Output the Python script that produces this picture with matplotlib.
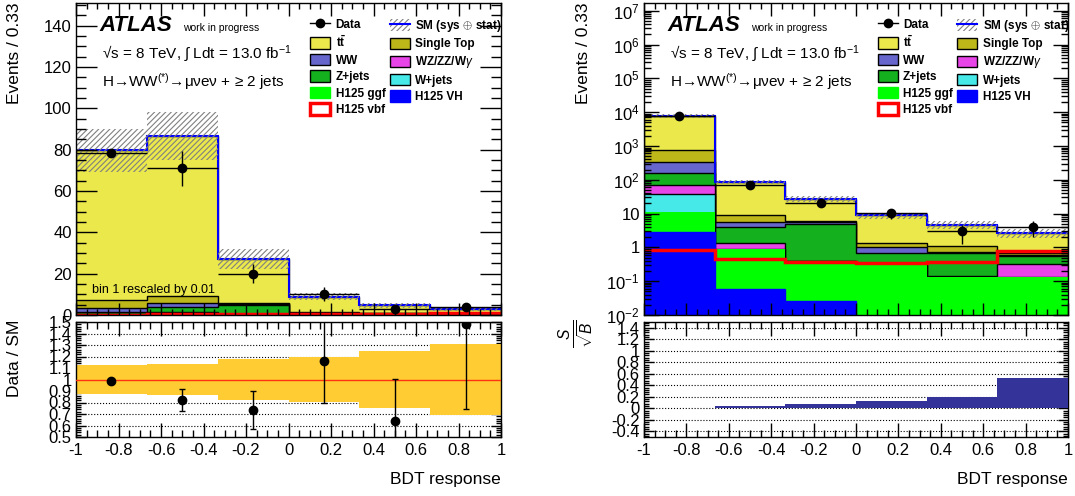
import numpy as np
import matplotlib
matplotlib.use('Agg')
import matplotlib.pyplot as plt
from matplotlib.patches import Patch
from matplotlib.lines import Line2D
from matplotlib.ticker import MultipleLocator, LogLocator, FuncFormatter, NullFormatter

plt.rcParams['font.family'] = ['Liberation Sans', 'DejaVu Sans']
plt.rcParams['mathtext.fontset'] = 'custom'
plt.rcParams['mathtext.rm'] = 'Liberation Sans'
plt.rcParams['mathtext.it'] = 'Liberation Sans:italic'
plt.rcParams['mathtext.bf'] = 'Liberation Sans:bold'
plt.rcParams['hatch.linewidth'] = 0.8

# BDT response binning (6 bins of width 1/3)
edges = np.linspace(-1, 1, 7)

# events per bin (bottom of the stack first)
h_vh = [2.9, 0.057, 0.026, 0.004, 0.003, 0.003]
h_ggf = [8.1, 0.87, 0.38, 0.33, 0.13, 0.13]
w_jets = [26, 0.0, 0.0, 0.0, 0.0, 0.0]
wz_zz = [31, 0.41, 0.0, 0.0, 0.012, 0.19]
z_jets = [91, 2.76, 4.59, 0.35, 0.53, 0.23]
ww = [168, 1.6, 0.5, 0.32, 0.07, 0.05]
single_top = [413, 3.6, 0.5, 0.34, 0.32, 0.08]
ttbar = [7230, 77.3, 21.2, 7.46, 3.63, 2.02]
h_vbf = [0.85, 0.45, 0.36, 0.34, 0.36, 0.8]
data = [7850, 71, 20, 10.2, 3.0, 4.0]
rel_unc = [0.13, 0.135, 0.18, 0.195, 0.25, 0.305]
s_over_sqrtb = [0.005, 0.04, 0.075, 0.12, 0.19, 0.52]
lin_scale = [0.01, 1, 1, 1, 1, 1]   # bin 1 rescaled by 0.01 in linear plot

samples = [
    ('H125 VH', h_vh, '#0000FF', False),
    ('H125 ggf', h_ggf, '#00FF00', False),
    ('W+jets', w_jets, '#47E8E8', True),
    ('WZ/ZZ/W$\\gamma$', wz_zz, '#E845E8', True),
    ('Z+jets', z_jets, '#14B01E', True),
    ('WW', ww, '#6666CC', True),
    ('Single Top', single_top, '#BDB71A', True),
    ('tt', ttbar, '#EBE84B', True),
]
colors = {s[0]: s[2] for s in samples}

centers = 0.5 * (edges[1:] + edges[:-1])
halfw = 0.5 * (edges[1] - edges[0])
total = np.sum([np.asarray(s[1]) for s in samples], axis=0)
data = np.asarray(data, dtype=float)
unc = np.asarray(rel_unc)


def draw_main(ax, scale, floor):
    scale = np.asarray(scale, dtype=float)
    cum = np.zeros(len(total))
    tops = []
    for name, vals, color, outline in samples:
        cum = cum + np.asarray(vals) * scale
        tops.append((cum.copy(), color, outline))
    for top, color, outline in reversed(tops):
        ax.stairs(np.maximum(top, floor), edges, baseline=floor, fill=True,
                  facecolor=color, edgecolor='k' if outline else 'none', linewidth=1)
    ax.stairs(np.asarray(h_vh) * scale, edges, baseline=None, color='#0000FF', lw=1)
    tot = total * scale
    ax.stairs(tot, edges, baseline=None, color='#0000FF', lw=1.5)
    ax.stairs(tot * (1 + unc), edges, baseline=tot * (1 - unc), fill=True,
              facecolor='none', edgecolor='#808080', hatch='//////', linewidth=0)
    ax.stairs(np.asarray(h_vbf) * scale, edges, baseline=None, color='#FF0000', lw=2.5)
    ax.errorbar(centers, data * scale, xerr=halfw, yerr=np.sqrt(data) * scale,
                fmt='o', color='k', ms=6, lw=1, capsize=0, zorder=6)


def fmt_g(v, pos):
    return '%g' % round(v, 3)


def style(ax, xlen, ylen):
    ax.tick_params(which='both', direction='in', top=True, right=True,
                   labelsize=12, width=1)
    ax.tick_params(axis='x', which='major', length=xlen, pad=4)
    ax.tick_params(axis='x', which='minor', length=xlen / 2)
    ax.tick_params(axis='y', which='major', length=ylen, pad=3)
    ax.tick_params(axis='y', which='minor', length=ylen / 2)
    ax.set_xlim(-1, 1)
    ax.xaxis.set_major_locator(MultipleLocator(0.2))
    ax.xaxis.set_minor_locator(MultipleLocator(0.05))
    ax.xaxis.set_major_formatter(FuncFormatter(fmt_g))
    for sp in ax.spines.values():
        sp.set_linewidth(1)


def legend(ax):
    h_data = Line2D([], [], color='k', marker='o', ms=6, lw=1)
    h_sm = (Patch(facecolor='none', edgecolor='#808080', hatch='//////', lw=0),
            Line2D([], [], color='#0000FF', lw=1.5))

    def box(c, outline=True):
        return Patch(facecolor=c, edgecolor='k' if outline else c, lw=1)
    col1 = [(h_data, 'Data'), (box(colors['tt']), r'$\mathbf{t\bar{t}}$'),
            (box(colors['WW']), 'WW'), (box(colors['Z+jets']), 'Z+jets'),
            (box(colors['H125 ggf'], False), 'H125 ggf'),
            (Patch(facecolor='white', edgecolor='#FF0000', lw=2.5), 'H125 vbf')]
    col2 = [(h_sm, 'SM (sys $\\oplus$ stat)'), (box(colors['Single Top']), 'Single Top'),
            (box(colors['WZ/ZZ/W$\\gamma$']), 'WZ/ZZ/W$\\gamma$'),
            (box(colors['W+jets']), 'W+jets'),
            (box(colors['H125 VH'], False), 'H125 VH')]
    kw = dict(loc='upper left', frameon=False, borderpad=0, borderaxespad=0,
              handlelength=1.7, handleheight=1.1, handletextpad=0.45,
              labelspacing=0.32, prop={'size': 8.5, 'weight': 'bold'})
    l1 = ax.legend([h for h, _ in col1], [t for _, t in col1],
                   bbox_to_anchor=(0.551, 0.952), **kw)
    ax.add_artist(l1)
    ax.legend([h for h, _ in col2], [t for _, t in col2],
              bbox_to_anchor=(0.739, 0.952), **kw)


def labels(ax):
    ax.text(0.056, 0.909, 'ATLAS', transform=ax.transAxes, fontsize=16,
            fontweight='bold', fontstyle='italic', va='baseline')
    ax.text(0.252, 0.909, 'work in progress', transform=ax.transAxes,
            fontsize=7.5, va='baseline')
    ax.text(0.061, 0.824, '√s = 8 TeV, ∫ Ldt = 13.0 fb$^{-1}$',
            transform=ax.transAxes, fontsize=11, va='baseline')
    ax.text(0.061, 0.731, 'H→WW$^{(*)}$→μνeν + ≥ 2 jets',
            transform=ax.transAxes, fontsize=11, va='baseline')


W, H = 1075, 496
fig = plt.figure(figsize=(W / 100, H / 100), dpi=100)

for px0, px1, logy in [(76, 501, False), (644, 1068, True)]:
    ax = fig.add_axes([px0 / W, 1 - 315 / H, (px1 - px0) / W, 312 / H])
    axr = fig.add_axes([px0 / W, 1 - 437 / H, (px1 - px0) / W, 115 / H])
    style(ax, 9, 15)
    style(axr, 10, 7)
    ax.tick_params(labelbottom=False)

    if logy:
        ax.set_yscale('log')
        draw_main(ax, np.ones(6), 1e-4)
        ax.set_ylim(1e-2, 10 ** 7.23)
        ax.yaxis.set_major_locator(LogLocator(base=10, numticks=20))
        ax.yaxis.set_minor_locator(LogLocator(base=10, subs=np.arange(2, 10), numticks=20))
        ax.yaxis.set_minor_formatter(NullFormatter())

        def log_label(v, pos):
            e = int(round(np.log10(v)))
            return {0: '1', 1: '10'}.get(e, r'$10^{%d}$' % e)
        ax.yaxis.set_major_formatter(FuncFormatter(log_label))
        ax.tick_params(axis='y', which='major', length=11)
        ax.tick_params(axis='y', which='minor', length=5)

        axr.stairs(s_over_sqrtb, edges, baseline=0, fill=True, color='#333399', zorder=3)
        axr.set_ylim(-0.5, 1.5)
        axr.yaxis.set_major_locator(MultipleLocator(0.2))
        axr.yaxis.set_minor_locator(MultipleLocator(0.04))
        fig.text((px0 - 68) / W, 1 - 319 / H, r'$\frac{S}{\sqrt{B}}$', rotation=90,
                 ha='center', va='top', fontsize=16)
    else:
        draw_main(ax, lin_scale, 0)
        ax.set_ylim(0, 151)
        ax.yaxis.set_major_locator(MultipleLocator(20))
        ax.yaxis.set_minor_locator(MultipleLocator(5))
        ax.text(0.038, 0.0705, 'bin 1 rescaled by 0.01', transform=ax.transAxes,
                fontsize=9, va='baseline')

        ratio = data / total
        rerr = np.sqrt(data) / total
        axr.stairs(1 + unc, edges, baseline=1 - unc, fill=True, color='#FFCC33', zorder=2)
        axr.axhline(1, color='#FF3311', lw=1, zorder=3)
        axr.errorbar(centers, ratio, yerr=rerr, fmt='o', color='k', ms=6, lw=1,
                     capsize=2, zorder=5)
        axr.set_ylim(0.5, 1.5)
        axr.yaxis.set_major_locator(MultipleLocator(0.1))
        axr.yaxis.set_minor_locator(MultipleLocator(0.02))
        fig.text((px0 - 61) / W, 1 - 320 / H, 'Data / SM', rotation=90,
                 ha='center', va='top', fontsize=12.5)

    axr.yaxis.set_major_formatter(FuncFormatter(fmt_g))
    axr.set_axisbelow(True)
    axr.yaxis.grid(True, which='major', linestyle=':', color='k', lw=0.8)
    legend(ax)
    labels(ax)
    fig.text((px0 - 61) / W, 1 - 3 / H, 'Events / 0.33', rotation=90,
             ha='center', va='top', fontsize=12.5)
    fig.text(px1 / W, 1 - 484 / H, 'BDT response', ha='right', va='baseline',
             fontsize=12.5)

fig.savefig('out.png', dpi=100)
